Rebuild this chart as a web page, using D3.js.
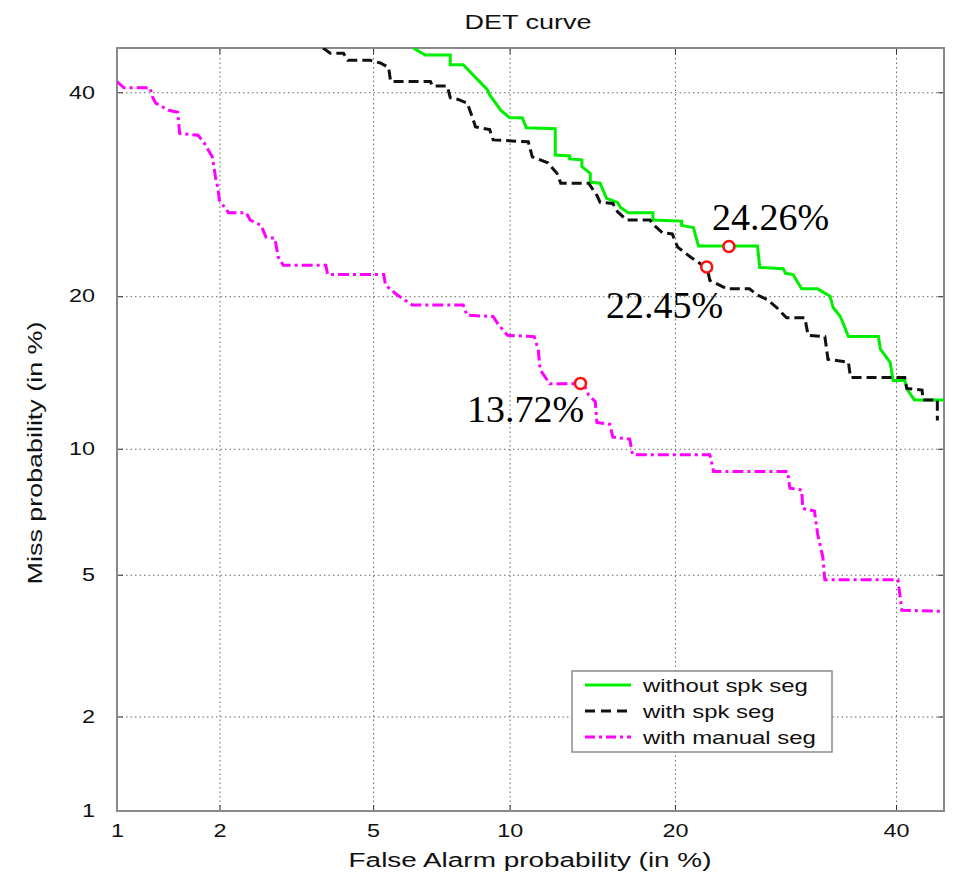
<!DOCTYPE html>
<html>
<head>
<meta charset="utf-8">
<script src="https://cdn.jsdelivr.net/npm/d3@7"></script>
<style>
  body { margin: 0; background: #fff; }
  svg { display: block; }
</style>
</head>
<body>
<svg id="chart"></svg>
<script>
// ====== data (all values in %) ====== //
const tickValues = [1, 2, 5, 10, 20, 40];
const tickLabels = ["1", "2", "5", "10", "20", "40"];
const axisMin = 1, axisMax = 45;

// [false alarm %, miss %]
const withoutSpkSeg = [[6.2,45],[6.6,44.2],[7.5,44.2],[7.5,43.1],[8.0,43.1],[9.0,40.3],[9.1,39.7],[9.6,38.0],[10.0,37.2],[10.6,37.2],[10.8,36.1],[12.3,36.0],[12.3,33.2],[13.1,33.1],[13.1,32.8],[13.8,32.7],[13.8,32.0],[14.3,31.3],[14.3,30.4],[14.9,30.3],[15.3,28.8],[16.0,28.4],[16.2,27.9],[16.7,27.4],[18.4,27.4],[18.4,26.7],[20.5,26.6],[20.5,26.2],[21.4,26.0],[21.8,24.3],[26.7,24.3],[26.9,22.4],[29.0,22.3],[29.2,21.9],[29.9,21.8],[30.7,20.6],[32.2,20.6],[33.4,20.0],[33.7,19.1],[34.4,18.4],[35.2,16.9],[38.2,16.9],[38.4,16.0],[39.4,15.1],[39.7,13.9],[40.9,13.9],[41.2,13.3],[41.9,12.7],[45,12.7]];
const withSpkSeg = [[3.77,45],[3.93,44.4],[4.24,44.4],[4.34,43.6],[4.92,43.6],[5.2,43.3],[5.44,42.8],[5.5,41.2],[6.78,41.2],[6.85,40.7],[7.39,40.7],[7.5,39.4],[7.8,39.2],[8.16,38.8],[8.36,37.3],[8.5,36.2],[9.1,35.9],[9.25,34.8],[10.9,34.6],[11.1,33.0],[11.9,32.4],[12.4,31.3],[12.6,30.3],[14.2,30.3],[14.7,29.1],[14.9,28.4],[15.7,28.3],[16.0,27.5],[16.6,26.7],[18.2,26.7],[18.4,26.3],[19.1,25.5],[19.8,25.4],[20.2,24.2],[21.2,23.3],[22.5,22.3],[22.7,21.3],[24.1,20.6],[26.0,20.6],[26.7,20.1],[27.6,19.7],[28.4,19.1],[29.3,18.3],[31.0,18.3],[31.3,17.0],[32.9,16.9],[33.2,15.3],[35.2,15.1],[35.4,14.1],[40.9,14.1],[41.1,13.4],[42.7,13.3],[42.8,12.7],[44.3,12.7],[44.3,11.5]];
const withManualSeg = [[1.0,41.2],[1.05,40.5],[1.26,40.5],[1.28,39.5],[1.31,38.8],[1.43,38.0],[1.52,37.8],[1.54,35.5],[1.74,35.3],[1.81,34.5],[1.91,33.0],[1.95,30.9],[1.98,29.8],[2.0,28.6],[2.12,27.4],[2.37,27.4],[2.43,26.7],[2.6,26.2],[2.68,25.1],[2.83,25.0],[2.89,23.3],[2.98,22.6],[3.83,22.6],[3.87,21.8],[5.3,21.8],[5.35,20.9],[5.7,20.1],[6.17,19.3],[8.0,19.3],[8.15,18.5],[9.25,18.4],[9.48,17.8],[9.9,17.0],[11.2,16.9],[11.4,16.0],[11.5,14.6],[12.0,13.7],[13.9,13.7],[14.2,13.0],[14.6,12.6],[14.7,11.4],[15.5,11.3],[15.7,10.6],[16.8,10.5],[17.0,9.7],[22.7,9.7],[23.0,8.9],[29.4,8.9],[29.6,8.15],[30.7,8.07],[30.8,7.3],[31.9,7.2],[32.2,6.35],[32.7,5.55],[32.9,4.85],[40.2,4.85],[40.6,4.03],[45,4.0]];

// equal error rate points (FA = Miss)
const eerValues = [24.26, 22.45, 13.72];
const eerLabels = ["24.26%", "22.45%", "13.72%"];
const legendLabels = ["without spk seg", "with spk seg", "with manual seg"];

// ====== layout ====== //
const width = 966, height = 876;
const plot = { left: 117, right: 944, top: 48, bottom: 811 };
const sansFont = "'Liberation Sans', Arial, Helvetica, sans-serif";
const serifFont = "'Liberation Serif', 'Times New Roman', serif";

const svg = d3.select("#chart").attr("width", width).attr("height", height);

// inverse normal cdf (Acklam) -> DET axes are normal deviate scales
function probit(p) {
  const a = [-3.969683028665376e+01, 2.209460984245205e+02, -2.759285104469687e+02, 1.383577518672690e+02, -3.066479806614716e+01, 2.506628277459239e+00];
  const b = [-5.447609879822406e+01, 1.615858368580409e+02, -1.556989798598866e+02, 6.680131188771972e+01, -1.328068155288572e+01];
  const c = [-7.784894002430293e-03, -3.223964580411365e-01, -2.400758277161838e+00, -2.549732539343734e+00, 4.374664141464968e+00, 2.938163982698783e+00];
  const d = [7.784695709041462e-03, 3.224671290700398e-01, 2.445134137142996e+00, 3.754408661907416e+00];
  const plow = 0.02425, phigh = 1 - plow;
  let q, r;
  if (p < plow) {
    q = Math.sqrt(-2 * Math.log(p));
    return (((((c[0]*q+c[1])*q+c[2])*q+c[3])*q+c[4])*q+c[5]) / ((((d[0]*q+d[1])*q+d[2])*q+d[3])*q+1);
  }
  if (p <= phigh) {
    q = p - 0.5; r = q * q;
    return (((((a[0]*r+a[1])*r+a[2])*r+a[3])*r+a[4])*r+a[5])*q / (((((b[0]*r+b[1])*r+b[2])*r+b[3])*r+b[4])*r+1);
  }
  q = Math.sqrt(-2 * Math.log(1 - p));
  return -(((((c[0]*q+c[1])*q+c[2])*q+c[3])*q+c[4])*q+c[5]) / ((((d[0]*q+d[1])*q+d[2])*q+d[3])*q+1);
}
const pct = v => probit(v / 100);

const x = d3.scaleLinear().domain([pct(axisMin), pct(axisMax)]).range([plot.left, plot.right]);
const y = d3.scaleLinear().domain([pct(axisMin), pct(axisMax)]).range([plot.bottom, plot.top]);
const fx = v => x(pct(v));
const fy = v => y(pct(v));
const ticksP = tickValues.map(pct);

// text helper: the reference font is rendered wide, so stretch horizontally
function addText(parent, tx, ty, str, size, sx, anchor, rot) {
  const g = parent.append("g")
    .attr("transform", `translate(${tx},${ty}) rotate(${rot || 0}) scale(${sx},1)`);
  return g.append("text")
    .attr("text-anchor", anchor)
    .attr("font-family", sansFont)
    .attr("font-size", size)
    .attr("fill", "#111")
    .text(str);
}

const W = plot.right - plot.left, H = plot.bottom - plot.top;

// ====== grid ====== //
svg.append("g")
  .attr("transform", `translate(0,${plot.bottom})`)
  .call(d3.axisBottom(x).tickValues(ticksP.slice(1)).tickSize(-H).tickFormat(""))
  .call(g => g.select(".domain").remove())
  .selectAll("line").attr("stroke", "#666").attr("stroke-width", 1).attr("stroke-dasharray", "1.5,3");

svg.append("g")
  .attr("transform", `translate(${plot.left},0)`)
  .call(d3.axisLeft(y).tickValues(ticksP.slice(1)).tickSize(-W).tickFormat(""))
  .call(g => g.select(".domain").remove())
  .selectAll("line").attr("stroke", "#666").attr("stroke-width", 1).attr("stroke-dasharray", "1.5,3");

// ====== axes (inward ticks on all four sides) ====== //
const xAxis = svg.append("g")
  .attr("transform", `translate(0,${plot.bottom})`)
  .call(d3.axisBottom(x).tickValues(ticksP).tickSizeInner(-6).tickSizeOuter(0).tickPadding(13)
    .tickFormat((d, i) => tickLabels[i]));
xAxis.selectAll("text")
  .attr("font-family", sansFont).attr("font-size", 18).attr("fill", "#111")
  .attr("transform", "scale(1.3,1)");

const yAxis = svg.append("g")
  .attr("transform", `translate(${plot.left},0)`)
  .call(d3.axisLeft(y).tickValues(ticksP).tickSizeInner(-6).tickSizeOuter(0).tickPadding(17)
    .tickFormat((d, i) => tickLabels[i]));
yAxis.selectAll("text")
  .attr("font-family", sansFont).attr("font-size", 18).attr("fill", "#111")
  .attr("transform", "scale(1.3,1)");

svg.append("g")
  .attr("transform", `translate(0,${plot.top})`)
  .call(d3.axisTop(x).tickValues(ticksP).tickSizeInner(-6).tickSizeOuter(0).tickFormat(""));
svg.append("g")
  .attr("transform", `translate(${plot.right},0)`)
  .call(d3.axisRight(y).tickValues(ticksP).tickSizeInner(-6).tickSizeOuter(0).tickFormat(""));

svg.selectAll(".domain").remove();
svg.selectAll(".tick line:not([stroke-dasharray])").attr("stroke", "#333");

// frame
svg.append("rect")
  .attr("x", plot.left).attr("y", plot.top)
  .attr("width", W).attr("height", H)
  .attr("fill", "none").attr("stroke", "#8a8a8a").attr("stroke-width", 2);

// ====== curves ====== //
svg.append("clipPath").attr("id", "clip")
  .append("rect").attr("x", plot.left).attr("y", plot.top).attr("width", W).attr("height", H);

const line = d3.line().x(d => fx(d[0])).y(d => fy(d[1]));
const series = [
  { data: withoutSpkSeg, color: "#00ee00", dash: null },
  { data: withSpkSeg, color: "#111", dash: "10,5" },
  { data: withManualSeg, color: "#ff00ff", dash: "11,4,3,4" }
];

const curves = svg.append("g").attr("clip-path", "url(#clip)");
series.forEach(s => {
  curves.append("path")
    .datum(s.data)
    .attr("d", line)
    .attr("fill", "none")
    .attr("stroke", s.color)
    .attr("stroke-width", 3)
    .attr("stroke-dasharray", s.dash);
});

// EER markers
svg.selectAll(".eer")
  .data(eerValues)
  .join("circle")
  .attr("class", "eer")
  .attr("cx", d => fx(d))
  .attr("cy", d => fy(d))
  .attr("r", 5.5)
  .attr("fill", "#fff")
  .attr("stroke", "#ff1010")
  .attr("stroke-width", 2.5);

// annotations (serif, added on top of the figure)
const annoPos = [[712, 230], [606, 318], [467, 422]];
svg.selectAll(".anno")
  .data(eerLabels)
  .join("text")
  .attr("class", "anno")
  .attr("x", (d, i) => annoPos[i][0])
  .attr("y", (d, i) => annoPos[i][1])
  .attr("font-family", serifFont)
  .attr("font-size", 38)
  .attr("fill", "#000")
  .text(d => d);

// ====== titles ====== //
addText(svg, 528, 29, "DET curve", 20, 1.35, "middle");
addText(svg, 530, 867, "False Alarm probability (in %)", 21, 1.33, "middle");
addText(svg, 42, 453, "Miss probability (in %)", 21, 1.28, "middle", -90);

// ====== legend ====== //
const legend = svg.append("g");
legend.append("rect")
  .attr("x", 572).attr("y", 671).attr("width", 260).attr("height", 81)
  .attr("fill", "#fff").attr("stroke", "#8a8a8a").attr("stroke-width", 1.5);

const rowY = [685, 711, 737];
series.forEach((s, i) => {
  legend.append("line")
    .attr("x1", 585).attr("x2", 631)
    .attr("y1", rowY[i]).attr("y2", rowY[i])
    .attr("stroke", s.color).attr("stroke-width", 3)
    .attr("stroke-dasharray", s.dash ? (i === 1 ? "10,6" : "10,4,3,4") : null);
  addText(legend, 643, rowY[i] + 7, legendLabels[i], 18, 1.33, "start");
});
</script>
</body>
</html>
